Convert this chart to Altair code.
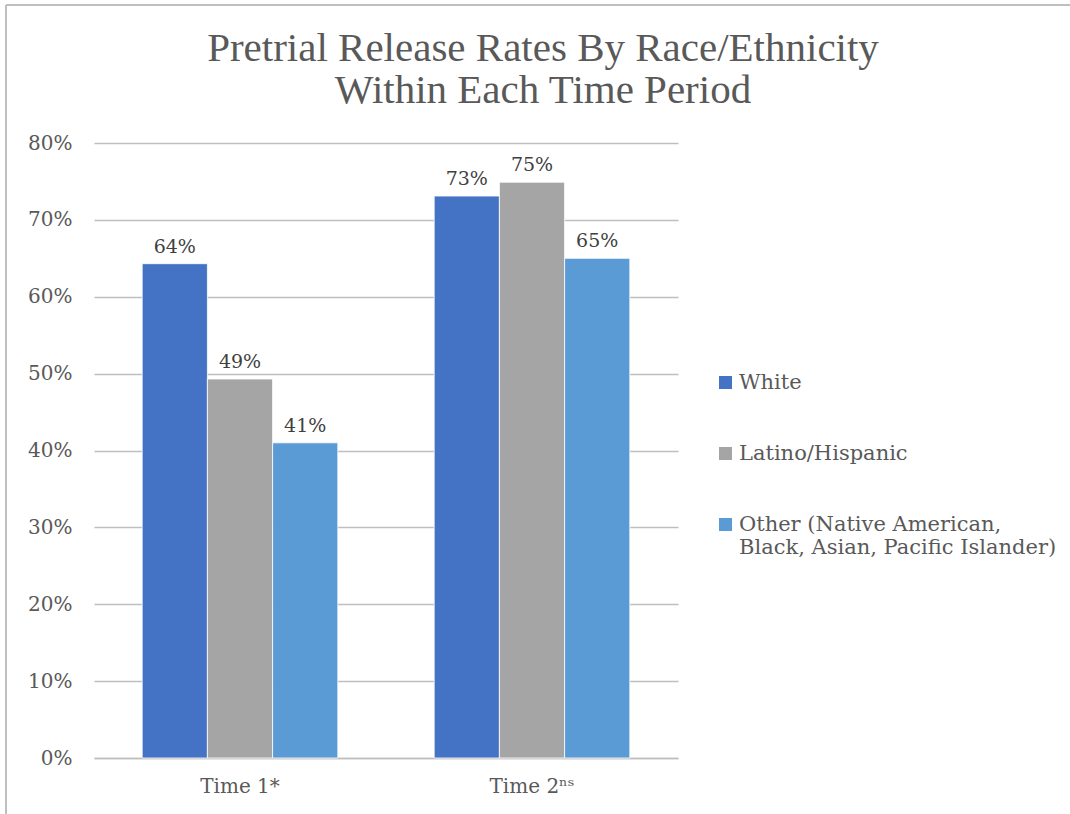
import altair as alt
import pandas as pd

periods = ["Time 1*", "Time 2ⁿˢ"]
groups = ["White", "Latino/Hispanic", "Other"]
time1 = [0.643, 0.493, 0.410]
time2 = [0.731, 0.749, 0.650]
colors = ["#4472C4", "#A5A5A5", "#5B9BD5"]

rows = []
for p, vals in zip(periods, [time1, time2]):
    for g, v in zip(groups, vals):
        rows.append({"period": p, "group": g, "rate": v})
df = pd.DataFrame(rows)

FONT = "DejaVu Serif"
TXT = "#595959"

label_expr = (
    "datum.label == 'Other' ? ['Other (Native American,', 'Black, Asian, Pacific Islander)'] : datum.label"
)

x_enc = alt.X("period:N", sort=periods, title=None,
              scale=alt.Scale(paddingInner=0.33, paddingOuter=0.165),
              axis=alt.Axis(labelAngle=0, labelFontSize=20, labelColor=TXT, labelFont=FONT,
                            labelPadding=18, ticks=False, domainColor="#BFBFBF", domainWidth=1.5))
xo_enc = alt.XOffset("group:N", sort=groups, scale=alt.Scale(paddingInner=0.0, paddingOuter=0.0))
y_enc = alt.Y("rate:Q", title=None,
              scale=alt.Scale(domain=[0, 0.8], nice=False),
              axis=alt.Axis(format=".0%", values=[0, .1, .2, .3, .4, .5, .6, .7, .8],
                            labelFontSize=20, labelColor=TXT, labelFont=FONT, labelPadding=22,
                            ticks=False, domain=False, gridColor="#BFBFBF", gridWidth=1.5))

bars = alt.Chart(df).mark_bar(stroke="white", strokeWidth=0.8).encode(
    x=x_enc, xOffset=xo_enc, y=y_enc,
    color=alt.Color("group:N", sort=groups, title=None,
                    scale=alt.Scale(domain=groups, range=colors),
                    legend=alt.Legend(orient="none", legendX=621, legendY=229,
                                      symbolType="square", symbolSize=169, symbolStrokeWidth=0,
                                      labelFontSize=21, labelFont=FONT, labelColor=TXT,
                                      labelLimit=500, rowPadding=49, labelOffset=3,
                                      labelExpr=label_expr)),
)

labels = alt.Chart(df).mark_text(baseline="bottom", dy=-7, fontSize=19, font=FONT, color="#404040").encode(
    x=alt.X("period:N", sort=periods), xOffset=alt.XOffset("group:N", sort=groups), y="rate:Q",
    text=alt.Text("rate:Q", format=".0%"),
)

frame_left = alt.Chart(pd.DataFrame({"a": [0]})).mark_rule(color="#BFBFBF", strokeWidth=2).encode(
    x=alt.value(-88), y=alt.value(-138), y2=alt.value(671))
frame_top = alt.Chart(pd.DataFrame({"a": [0]})).mark_rule(color="#BFBFBF", strokeWidth=2).encode(
    x=alt.value(-88), x2=alt.value(976), y=alt.value(-138))

chart = alt.layer(bars, labels, frame_left, frame_top).properties(
    width=584, height=615,
    background="white",
    padding={"left": 94, "top": 143, "right": 392, "bottom": 56},
    autosize=alt.AutoSizeParams(type="none"),
    title=alt.TitleParams(["Pretrial Release Rates By Race/Ethnicity", "Within Each Time Period"],
                          font="Liberation Serif", fontSize=41, fontWeight="normal", color=TXT,
                          anchor="middle", dx=157, offset=-108, lineHeight=42),
).configure_view(stroke=None, strokeWidth=0)

chart.save("out.html", embed_options={"renderer": "svg", "actions": False})
